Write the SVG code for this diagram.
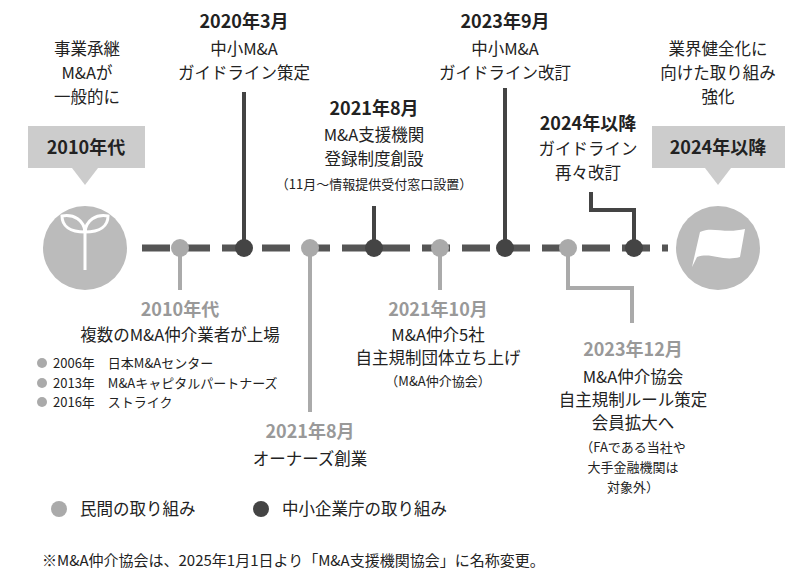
<svg xmlns="http://www.w3.org/2000/svg" width="800" height="587" viewBox="0 0 800 587">
<style>
text{font-family:"Noto Sans CJK JP","Noto Sans",sans-serif;text-anchor:middle;fill:#222}
.b{font-weight:bold;font-size:18px}
.t{font-size:16.5px}
.s{font-size:13px}
.g{fill:#999;font-weight:bold;font-size:18px}
.dk{stroke:#444;stroke-width:4;fill:none}
.lt{stroke:#aaa;stroke-width:4;fill:none}
</style>
<rect width="800" height="587" fill="#fff"/>
<g id="connectors">
<line x1="138" y1="248" x2="668" y2="248" stroke="#555" stroke-width="7" stroke-dasharray="28,12" stroke-dashoffset="-4"/>
<path class="dk" d="M244 92V248M374 206V248M505 88V248M591 192V210H634V248"/>
<path class="lt" d="M180 248V290M310 248V412M440 248V290M568 248V288H632V323"/>
</g>
<g id="start"><circle cx="85" cy="248" r="42" fill="#bbb"/>
<path d="M85 270V232M85 232C70 232 62 226 62 216C74 214 84 220 85 232M85 232C86 220 96 214 108 216C108 226 100 232 85 232" fill="none" stroke="#fff" stroke-width="3"/>
<rect x="28" y="126" width="117" height="42" fill="#ccc"/><path d="M72 168L85 185L98 168Z" fill="#ccc"/>
<text x="86" y="154" class="b" font-size="19">2010年代</text></g>
<g id="end"><circle cx="718" cy="248" r="42" fill="#bbb"/>
<path d="M692 267L700 232C712 226 724 234 745 229L740 257C722 262 712 252 697 257Z" fill="#fff"/>
<rect x="652" y="126" width="133" height="42" fill="#ccc"/><path d="M705 168L718 185L731 168Z" fill="#ccc"/>
<text x="718" y="154" class="b" font-size="19">2024年以降</text></g>
<g id="dots">
<circle cx="180" cy="248" r="9" fill="#aaa"/><circle cx="244" cy="248" r="9" fill="#444"/>
<circle cx="310" cy="248" r="9" fill="#aaa"/><circle cx="374" cy="248" r="9" fill="#444"/>
<circle cx="440" cy="248" r="9" fill="#aaa"/><circle cx="505" cy="248" r="9" fill="#444"/>
<circle cx="568" cy="248" r="9" fill="#aaa"/><circle cx="634" cy="248" r="9" fill="#444"/>
</g>
<g id="n1"><text class="t" x="87" y="55">事業承継</text><text class="t" x="87" y="79">M&amp;Aが</text><text class="t" x="87" y="103">一般的に</text></g>
<g id="n2"><text class="b" x="244" y="28">2020年3月</text><text class="t" x="244" y="55">中小M&amp;A</text><text class="t" x="244" y="79">ガイドライン策定</text></g>
<g id="n3"><text class="b" x="374" y="115">2021年8月</text><text class="t" x="374" y="141">M&amp;A支援機関</text><text class="t" x="374" y="165">登録制度創設</text><text class="s" x="374" y="189">（11月〜情報提供受付窓口設置）</text></g>
<g id="n4"><text class="b" x="505" y="28">2023年9月</text><text class="t" x="505" y="55">中小M&amp;A</text><text class="t" x="505" y="79">ガイドライン改訂</text></g>
<g id="n5"><text class="b" x="588" y="130">2024年以降</text><text class="t" x="588" y="155">ガイドライン</text><text class="t" x="588" y="179">再々改訂</text></g>
<g id="n6"><text class="t" x="718" y="55">業界健全化に</text><text class="t" x="718" y="79">向けた取り組み</text><text class="t" x="718" y="103">強化</text></g>
<g id="n7"><text class="g" x="180" y="316">2010年代</text><text class="t" x="180" y="341">複数のM&amp;A仲介業者が上場</text>
<circle cx="42" cy="363" r="5" fill="#aaa"/><circle cx="42" cy="383" r="5" fill="#aaa"/><circle cx="42" cy="402" r="5" fill="#aaa"/>
<text class="s" x="53" y="368" style="text-anchor:start">2006年　日本M&amp;Aセンター</text>
<text class="s" x="53" y="388" style="text-anchor:start">2013年　M&amp;Aキャピタルパートナーズ</text>
<text class="s" x="53" y="407" style="text-anchor:start">2016年　ストライク</text></g>
<g id="n8"><text class="g" x="310" y="438">2021年8月</text><text class="t" x="310" y="465">オーナーズ創業</text></g>
<g id="n9"><text class="g" x="438" y="316">2021年10月</text><text class="t" x="438" y="341">M&amp;A仲介5社</text><text class="t" x="438" y="364">自主規制団体立ち上げ</text><text class="s" x="438" y="386">（M&amp;A仲介協会）</text></g>
<g id="n10"><text class="g" x="633" y="356">2023年12月</text><text class="t" x="633" y="383">M&amp;A仲介協会</text><text class="t" x="633" y="406">自主規制ルール策定</text><text class="t" x="633" y="429">会員拡大へ</text>
<text class="s" x="633" y="452">（FAである当社や</text><text class="s" x="633" y="472">大手金融機関は</text><text class="s" x="633" y="492">対象外）</text></g>
<g id="legend"><circle cx="59" cy="509" r="8" fill="#aaa"/><text class="t" x="80" y="515" style="text-anchor:start">民間の取り組み</text>
<circle cx="261" cy="509" r="8" fill="#444"/><text class="t" x="282" y="515" style="text-anchor:start">中小企業庁の取り組み</text></g>
<text x="42" y="566" style="text-anchor:start;font-size:15px">※M&amp;A仲介協会は、2025年1月1日より「M&amp;A支援機関協会」に名称変更。</text>
</svg>
